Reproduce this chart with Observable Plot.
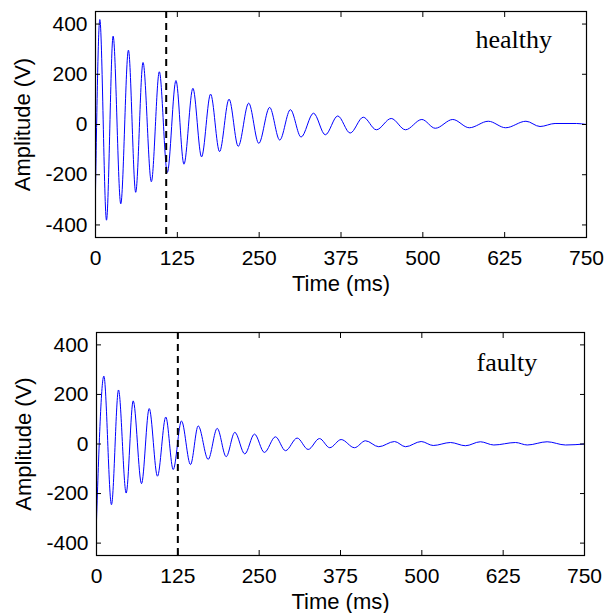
<!DOCTYPE html>
<html>
<head>
<meta charset="utf-8">
<script src="https://cdn.jsdelivr.net/npm/d3@7"></script>
<script src="https://cdn.jsdelivr.net/npm/@observablehq/plot@0.6"></script>
<style>
  html, body { margin: 0; padding: 0; background: white; }
  #chart svg { display: block; }
</style>
</head>
<body>
<div id="chart"></div>
<script>
// ---- data (extrema of each oscillation) ----
const xTicks = [0, 125, 250, 375, 500, 625, 750];
const yTicks = [-400, -200, 0, 200, 400];

const healthyT = [0, 6.6, 16.8, 26.9, 38.6, 50.3, 61.4, 72.6, 85.3, 97.5, 109.7, 122.9, 135.1, 148.8, 162, 175.8, 189.5, 204, 218, 234, 249.4, 266, 281.4, 297.7, 314, 333, 351, 370, 389, 409, 429, 451.7, 473.5, 498.5, 519, 545.7, 571, 600, 626.5, 657.5, 679, 702, 735, 750];
const healthyV = [-260, 418, -381, 352, -316, 296, -270, 247, -228, 210, -191, 175, -158, 144, -129, 121, -108, 101, -87, 85, -75, 68, -62, 59, -50, 45, -41, 34, -34, 29, -21, 24, -21, 20, -15, 20, -13, 13, -13, 13, -8, 4, 4, 0];

const faultyT = [0, 11.3, 23, 33.8, 45.6, 56.4, 69.2, 81, 93.7, 106.5, 117.9, 130.6, 144.5, 156.3, 171.6, 185.5, 199.3, 212.6, 227.9, 242.8, 258, 275, 290.5, 308.4, 325.3, 342.7, 358.5, 376, 396.5, 413.4, 433.8, 458, 475, 499, 517.5, 544, 567, 590, 610.6, 644, 662, 692.6, 720.8, 750];
const faultyV = [-307, 274, -245, 218, -198, 174, -160, 143, -130, 109, -103, 93, -83, 73, -62, 63, -51, 47, -40, 40, -34, 29, -27, 24, -22, 22, -15, 18, -15, 13, -11, 10, -11, 10, -6, 6, -7, 9, -4, 6, -4, 9, -4, 0];

const panelLabels = ["healthy", "faulty"];
const dashTimes = [108, 125];
const xTitle = "Time (ms)";
const yTitle = "Amplitude (V)";

const SANS = "'Liberation Sans', Arial, Helvetica, sans-serif";
const SERIF = "'Liberation Serif', 'Times New Roman', serif";

function panel(T, V, label, dash, m) {
  const data = T.map((t, i) => ({t, v: V[i]}));
  const blank = () => "";
  const plain = d => String(d);
  return Plot.plot({
    width: 607,
    height: m.height,
    marginTop: m.top,
    marginBottom: m.bottom,
    marginLeft: m.left,
    marginRight: m.right,
    x: {domain: [0, 750]},
    y: {domain: [-450, 450]},
    style: {fontFamily: SANS, fontSize: "21px", color: "black", background: "white", overflow: "visible"},
    marks: [
      Plot.line(data, {x: "t", y: "v", stroke: "#0000ff", strokeWidth: 1, curve: "monotone-x"}),
      Plot.ruleX([dash], {stroke: "black", strokeWidth: 2, strokeDasharray: "7,5"}),
      Plot.frame({stroke: "black", strokeWidth: 1.2}),
      Plot.axisX(xTicks, {anchor: "bottom", tickSize: 0, tickPadding: 13, tickFormat: plain, label: null, fontSize: 21}),
      Plot.axisX(xTicks, {anchor: "bottom", tickSize: -5, tickFormat: blank, label: null}),
      Plot.axisX(xTicks, {anchor: "top", tickSize: -5, tickFormat: blank, label: null}),
      Plot.axisY(yTicks, {anchor: "left", tickSize: 0, tickPadding: 8, tickFormat: plain, label: null, fontSize: 21}),
      Plot.axisY(yTicks, {anchor: "left", tickSize: -5, tickFormat: blank, label: null}),
      Plot.axisY(yTicks, {anchor: "right", tickSize: -5, tickFormat: blank, label: null}),
      Plot.text([label], {text: d => d, frameAnchor: "top-left", dx: 380, dy: m.labelDy, textAnchor: "start", lineAnchor: "bottom", fontFamily: SERIF, fontSize: 26}),
      Plot.text([yTitle], {text: d => d, frameAnchor: "left", rotate: -90, dx: -73, textAnchor: "middle", lineAnchor: "middle", fontSize: 22}),
      Plot.text([xTitle], {text: d => d, frameAnchor: "bottom", dy: 46, textAnchor: "middle", lineAnchor: "middle", fontSize: 22})
    ]
  });
}

const chart = document.getElementById("chart");
chart.append(panel(healthyT, healthyV, panelLabels[0], dashTimes[0],
  {height: 306, top: 11, bottom: 69, left: 95, right: 21, labelDy: 36}));
chart.append(panel(faultyT, faultyV, panelLabels[1], dashTimes[1],
  {height: 307, top: 26, bottom: 58, left: 96, right: 23, labelDy: 38}));
</script>
</body>
</html>
